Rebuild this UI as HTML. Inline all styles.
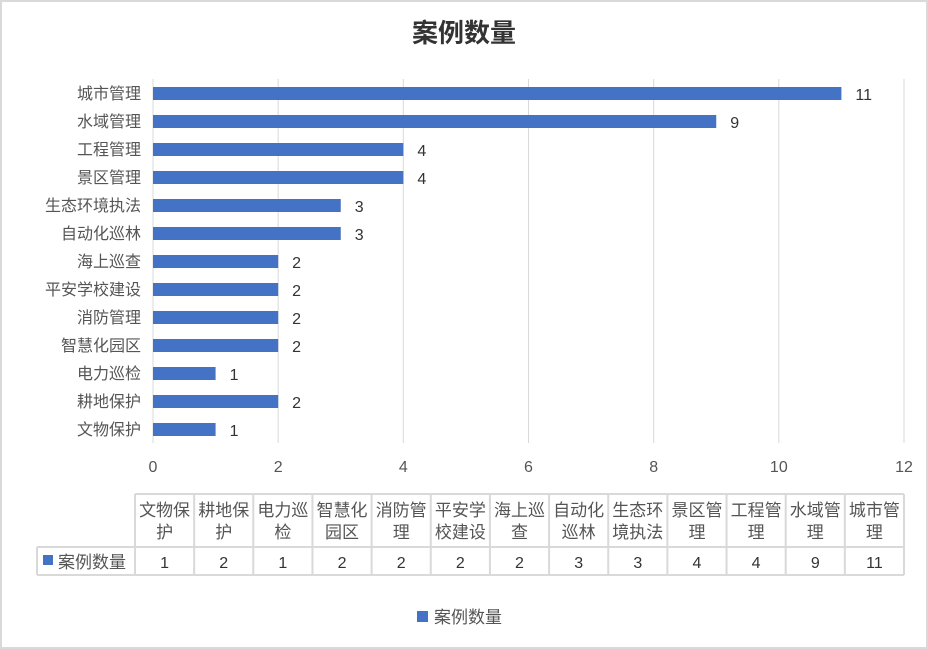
<!DOCTYPE html>
<html><head><meta charset="utf-8"><style>
body{margin:0;background:#fff}
svg{display:block;font-family:"Liberation Sans","Noto Sans CJK SC",sans-serif}
</style></head><body>
<svg id="c" width="928" height="649">
<rect x="1" y="1" width="926" height="647" fill="#fff" stroke="#d9d9d9" stroke-width="2"/>
<text x="464" y="42" text-anchor="middle" font-size="26" font-weight="bold" fill="#333">案例数量</text>
<g id="grid"></g><g id="bars"></g><g id="tbl"></g>
<rect x="417" y="611" width="11" height="11" fill="#4472c4"/>
<text x="434" y="623" font-size="17" fill="#555">案例数量</text>
</svg>
<script>
const categories=["城市管理","水域管理","工程管理","景区管理","生态环境执法","自动化巡林","海上巡查","平安学校建设","消防管理","智慧化园区","电力巡检","耕地保护","文物保护"];
const values=[11,9,4,4,3,3,2,2,2,2,1,2,1];
const ticks=[0,2,4,6,8,10,12];
const tableCats=["文物保护","耕地保护","电力巡检","智慧化园区","消防管理","平安学校建设","海上巡查","自动化巡林","生态环境执法","景区管理","工程管理","水域管理","城市管理"];
const tableVals=[1,2,1,2,2,2,2,3,3,4,4,9,11];
const NS="http://www.w3.org/2000/svg";
function mk(p,t,a,txt){const e=document.createElementNS(NS,t);for(const k in a)e.setAttribute(k,a[k]);if(txt!=null)e.textContent=txt;p.appendChild(e);return e;}
const x0=153,x1=904,yTop=79,rowH=28;
const xs=v=>x0+(v-0)/(12-0)*(x1-x0);
const ys=i=>yTop+i*rowH+14;
const grid=document.getElementById('grid'),bars=document.getElementById('bars'),tbl=document.getElementById('tbl');
ticks.forEach(t=>{
 const l=mk(grid,'line',{x1:xs(t),x2:xs(t),y1:yTop,y2:yTop+13*rowH,stroke:'#d9d9d9','stroke-width':1});
 
 
 const tx=mk(grid,'text',{x:xs(t),y:472,'text-anchor':'middle','font-size':16,fill:'#555'},t);
 
 
});
categories.forEach((c,i)=>{
 const y=ys(i);
 const r=mk(bars,'rect',{x:x0,y:y-6,width:xs(values[i])-x0,height:13,fill:'#4472c4'});
 
 
 const lb=mk(bars,'text',{x:141,y:y+6,'text-anchor':'end','font-size':16,fill:'#555'},c);
 
 
 const vl=mk(bars,'text',{x:xs(values[i])+14,y:y+7,'font-size':16,fill:'#333'},values[i]);
 
 
});
const tx0=135,tx1=904,cw=(tx1-tx0)/13,hy0=494,hy1=547,dy1=575;
const st={stroke:'#d9d9d9','stroke-width':2};
mk(tbl,'line',Object.assign({x1:tx0,x2:tx1,y1:hy0,y2:hy0},st));
mk(tbl,'line',Object.assign({x1:37,x2:tx1,y1:hy1,y2:hy1},st));
mk(tbl,'line',Object.assign({x1:37,x2:tx1,y1:dy1,y2:dy1},st));
mk(tbl,'line',Object.assign({x1:37,x2:37,y1:hy1,y2:dy1},st));
for(let i=0;i<=13;i++)mk(tbl,'line',Object.assign({x1:tx0+i*cw,x2:tx0+i*cw,y1:hy0,y2:dy1},st));
mk(tbl,'rect',{x:43,y:555,width:10,height:10,fill:'#4472c4'});
mk(tbl,'text',{x:58,y:568,'font-size':17,fill:'#555'},'案例数量');
tableCats.forEach((c,i)=>{
 const cx=tx0+(i+0.5)*cw;
 const a=c.slice(0,3),b=c.slice(3);
 const t1=mk(tbl,'text',{x:cx,y:516,'text-anchor':'middle','font-size':17,fill:'#555'},a);
 
 
 const t2=mk(tbl,'text',{x:cx,y:538,'text-anchor':'middle','font-size':17,fill:'#555'},b);
 
 
 const v=mk(tbl,'text',{x:cx,y:568,'text-anchor':'middle','font-size':16,fill:'#333'},tableVals[i]);
 
 
});
</script>
</body></html>
